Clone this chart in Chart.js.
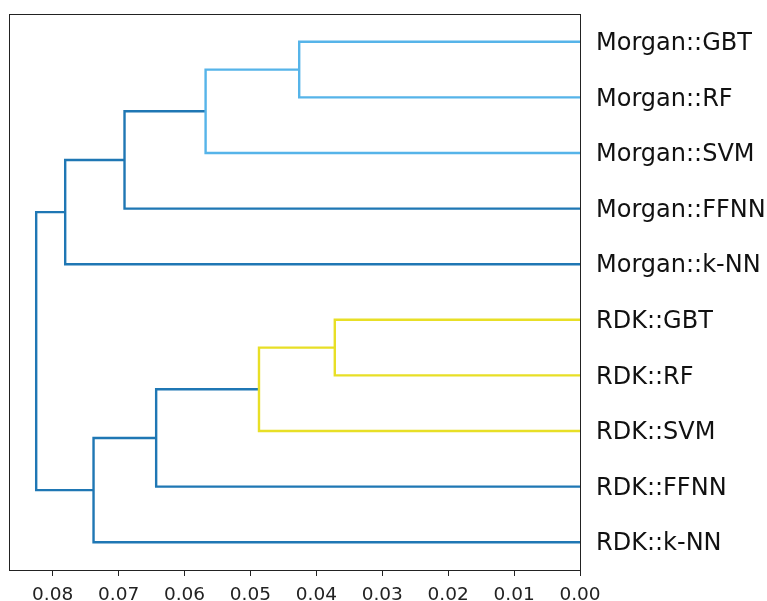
<!DOCTYPE html>
<html>
<head>
<meta charset="utf-8">
<script src="https://cdn.jsdelivr.net/npm/chart.js@4/dist/chart.umd.min.js"></script>
<style>
  html, body { margin: 0; padding: 0; background: #ffffff; }
  #wrap { width: 767px; height: 601px; }
</style>
</head>
<body>
<div id="wrap"><canvas id="chart" width="767" height="601"></canvas></div>
<script>
// Leaves, top to bottom
const leafLabels = [
  'Morgan::GBT', 'Morgan::RF', 'Morgan::SVM', 'Morgan::FFNN', 'Morgan::k-NN',
  'RDK::GBT', 'RDK::RF', 'RDK::SVM', 'RDK::FFNN', 'RDK::k-NN'
];

// Linkage: merge i creates node (leafLabels.length + i) from linkLeft[i] and linkRight[i]
const linkLeft   = [5, 0, 10, 11, 12, 13, 14, 15, 17];
const linkRight  = [6, 1, 7, 2, 8, 3, 9, 4, 16];
const linkHeight = [0.0372, 0.0426, 0.0487, 0.0568, 0.0643, 0.0691, 0.0738, 0.0781, 0.0825];

// Distance axis tick values
const distanceTicks = [0.00, 0.01, 0.02, 0.03, 0.04, 0.05, 0.06, 0.07, 0.08];

// Styling
const clusterPalette = ['#56b4e9', '#e8df26'];
const aboveColor = '#1f77b4';
const nLeaves = leafLabels.length;
const maxHeight = Math.max(...linkHeight);
const colorThreshold = 0.7 * maxHeight;

// Node positions: leaves sit at 5, 15, 25 ... on the vertical axis
const nodeY = [];
const nodeH = [];
leafLabels.forEach((_, i) => { nodeY[i] = 5 + 10 * i; nodeH[i] = 0; });
linkLeft.forEach((a, i) => {
  const b = linkRight[i];
  nodeY[nLeaves + i] = (nodeY[a] + nodeY[b]) / 2;
  nodeH[nLeaves + i] = linkHeight[i];
});

// Cluster colouring: merges below the threshold share a colour per top-most cluster,
// assigned in the order the clusters appear along the leaves
const nodeColor = [];
function leavesOf(n) {
  if (n < nLeaves) return [n];
  const i = n - nLeaves;
  return leavesOf(linkLeft[i]).concat(leavesOf(linkRight[i]));
}
const clusterRoots = [];
for (let i = 0; i < linkHeight.length; i++) {
  const n = nLeaves + i;
  if (linkHeight[i] < colorThreshold) {
    const parentIdx = linkLeft.findIndex((a, j) => a === n || linkRight[j] === n);
    if (parentIdx < 0 || linkHeight[parentIdx] >= colorThreshold) clusterRoots.push(n);
  }
}
clusterRoots.sort((p, q) => Math.min(...leavesOf(p)) - Math.min(...leavesOf(q)));
clusterRoots.forEach((root, k) => {
  const col = clusterPalette[k % clusterPalette.length];
  (function paint(n) {
    if (n < nLeaves) return;
    nodeColor[n] = col;
    paint(linkLeft[n - nLeaves]);
    paint(linkRight[n - nLeaves]);
  })(root);
});

// One U-shaped line per merge
const datasets = linkLeft.map((a, i) => {
  const b = linkRight[i];
  const n = nLeaves + i;
  const h = linkHeight[i];
  return {
    data: [
      { x: nodeH[a], y: nodeY[a] },
      { x: h, y: nodeY[a] },
      { x: h, y: nodeY[b] },
      { x: nodeH[b], y: nodeY[b] }
    ],
    showLine: true,
    borderColor: nodeColor[n] || aboveColor,
    borderWidth: 2.4,
    borderCapStyle: 'butt',
    borderJoinStyle: 'miter',
    pointRadius: 0,
    tension: 0,
    fill: false
  };
});

// Box around the plotting area
const frame = {
  id: 'frame',
  afterDraw(chart) {
    const { ctx, chartArea: a } = chart;
    ctx.save();
    ctx.strokeStyle = '#222222';
    ctx.lineWidth = 1;
    ctx.strokeRect(Math.round(a.left) + 0.5, Math.round(a.top) + 0.5,
                   Math.round(a.right - a.left), Math.round(a.bottom - a.top));
    ctx.restore();
  }
};

new Chart(document.getElementById('chart'), {
  type: 'scatter',
  data: { datasets },
  plugins: [frame],
  options: {
    responsive: false,
    animation: false,
    devicePixelRatio: 1,
    layout: { padding: { left: 9, top: 14, right: 0, bottom: 0 } },
    plugins: { legend: { display: false }, tooltip: { enabled: false } },
    scales: {
      x: {
        type: 'linear',
        position: 'bottom',
        reverse: true,
        min: 0,
        max: maxHeight * 1.05,
        afterBuildTicks(scale) { scale.ticks = distanceTicks.map(v => ({ value: v })); },
        afterFit(scale) {
          scale.height = 31;
          scale.paddingLeft = 0; scale.paddingRight = 0;
        },
        grid: { drawOnChartArea: false, drawTicks: true, tickLength: 6, color: '#222222', lineWidth: 1 },
        border: { display: true, color: '#222222', width: 1 },
        ticks: {
          autoSkip: false,
          maxRotation: 0,
          padding: 8,
          color: '#222222',
          font: { family: 'DejaVu Sans', size: 18.5 },
          callback: v => Number(v).toFixed(2)
        }
      },
      y: {
        type: 'linear',
        position: 'right',
        reverse: true,
        min: 0,
        max: 10 * nLeaves,
        afterBuildTicks(scale) { scale.ticks = leafLabels.map((_, i) => ({ value: 5 + 10 * i })); },
        afterFit(scale) {
          scale.width = 187;
          scale.paddingTop = 0; scale.paddingBottom = 0;
        },
        grid: { drawOnChartArea: false, drawTicks: false },
        border: { display: true, color: '#222222', width: 1 },
        ticks: {
          autoSkip: false,
          padding: 16,
          labelOffset: 2,
          color: '#111111',
          font: { family: 'DejaVu Sans', size: 24 },
          callback: (v) => leafLabels[Math.round((v - 5) / 10)]
        }
      }
    }
  }
});
</script>
</body>
</html>
